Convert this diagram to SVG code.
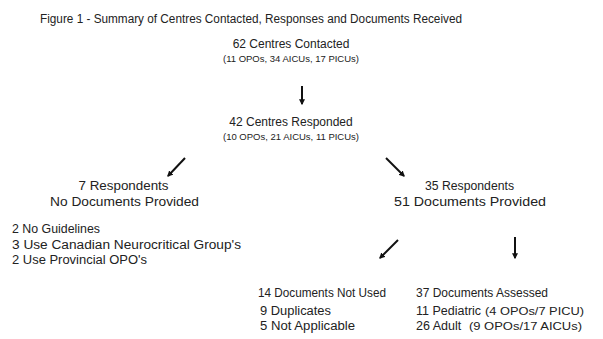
<svg xmlns="http://www.w3.org/2000/svg" width="603" height="339" viewBox="0 0 603 339">
<defs>
<style>
text{font-family:"Liberation Sans",Arial,sans-serif;fill:#222;}
.t{font-size:12.5px;}
.c{font-size:12px;}
.s{font-size:9.5px;}
.p{font-size:10.5px;}
.m{text-anchor:middle;}
.a{stroke:#111;stroke-width:2;fill:none;marker-end:url(#ah);}
</style>
<marker id="ah" viewBox="0 0 10 10" refX="8" refY="5" markerWidth="3" markerHeight="3" orient="auto" markerUnits="strokeWidth">
<path d="M0,0 L10,5 L0,10 z" fill="#111"/>
</marker>
</defs>
<rect width="603" height="339" fill="#fff"/>
<text class="t" x="40" y="23" textLength="422" lengthAdjust="spacingAndGlyphs">Figure 1 - Summary of Centres Contacted, Responses and Documents Received</text>
<g id="n1"><text class="c m" x="291" y="48">62 Centres Contacted</text><text class="s m" x="291" y="62">(11 OPOs, 34 AICUs, 17 PICUs)</text></g>
<g id="n2"><text class="c m" x="291" y="126">42 Centres Responded</text><text class="s m" x="291" y="140">(10 OPOs, 21 AICUs, 11 PICUs)</text></g>
<g id="n3"><text class="t m" x="123.5" y="190" textLength="90" lengthAdjust="spacingAndGlyphs">7 Respondents</text><text class="t m" x="124.5" y="206" textLength="149" lengthAdjust="spacingAndGlyphs">No Documents Provided</text></g>
<g id="n4"><text class="t" x="12" y="233" textLength="88" lengthAdjust="spacingAndGlyphs">2 No Guidelines</text><text class="t" x="12" y="249" textLength="229" lengthAdjust="spacingAndGlyphs">3 Use Canadian Neurocritical Group's</text><text class="t" x="12" y="264" textLength="135" lengthAdjust="spacingAndGlyphs">2 Use Provincial OPO's</text></g>
<g id="n5"><text class="t m" x="469.5" y="190" textLength="89" lengthAdjust="spacingAndGlyphs">35 Respondents</text><text class="t m" x="470" y="206" textLength="152" lengthAdjust="spacingAndGlyphs">51 Documents Provided</text></g>
<g id="n6"><text class="t" x="258" y="297" textLength="128" lengthAdjust="spacingAndGlyphs">14 Documents Not Used</text><text class="t" x="260" y="315" textLength="71" lengthAdjust="spacingAndGlyphs">9 Duplicates</text><text class="t" x="260" y="330" textLength="95" lengthAdjust="spacingAndGlyphs">5 Not Applicable</text></g>
<g id="n7"><text class="t" x="416" y="297" textLength="132" lengthAdjust="spacingAndGlyphs">37 Documents Assessed</text><text class="t" x="416" y="315">11 Pediatric</text><text class="p" x="485" y="315" textLength="99" lengthAdjust="spacingAndGlyphs">(4 OPOs/7 PICU)</text><text class="t" x="416" y="330">26 Adult</text><text class="p" x="469" y="330" textLength="113" lengthAdjust="spacingAndGlyphs">(9 OPOs/17 AICUs)</text></g>
<g id="connectors">
<line class="a" x1="302" y1="86" x2="302" y2="104"/>
<line class="a" x1="185" y1="158" x2="168" y2="176"/>
<line class="a" x1="386" y1="158" x2="404" y2="176"/>
<line class="a" x1="398" y1="240" x2="380" y2="258"/>
<line class="a" x1="515" y1="237" x2="515" y2="258"/>
</g>
</svg>
